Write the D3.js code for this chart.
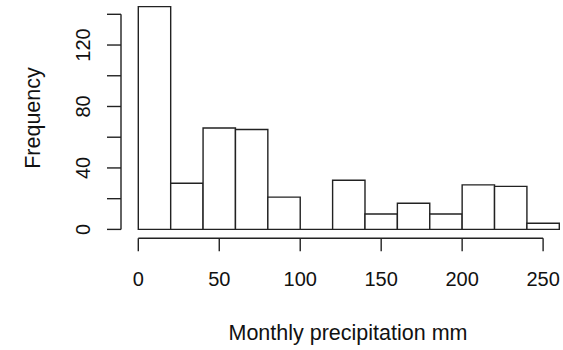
<html>
<head>
<script src="https://d3js.org/d3.v7.min.js"></script>
<style>
    body { margin: 0; background: #fff; }
    text { font-family: "Liberation Sans", Arial, sans-serif; fill: #111; }
</style>
</head>
<body>
<svg id="chart" width="563" height="350"></svg>
<script>
// histogram bins (20 mm wide) and counts
const binStarts = [0, 20, 40, 60, 80, 100, 120, 140, 160, 180, 200, 220, 240];
const binWidth = 20;
const counts = [145, 30, 66, 65, 21, 0, 32, 10, 17, 10, 29, 28, 4];
const xTicks = [0, 50, 100, 150, 200, 250];
const yTicks = [0, 20, 40, 60, 80, 100, 120, 140];
const yLabels = [0, 40, 80, 120];

const svg = d3.select("#chart");

const x = d3.scaleLinear().domain([0, 260]).range([138.3, 559.3]);
const y = d3.scaleLinear().domain([0, 140]).range([229.4, 14.3]);

// bars as closed paths so an empty bin still shows its outline
svg.append("g")
    .selectAll("path")
    .data(binStarts)
    .join("path")
    .attr("d", (d, i) => {
        const x0 = x(d), x1 = x(d + binWidth), y0 = y(0), y1 = y(counts[i]);
        return `M${x0},${y0}L${x0},${y1}L${x1},${y1}L${x1},${y0}Z`;
    })
    .attr("fill", "#fff")
    .attr("stroke", "#222")
    .attr("stroke-width", 1.4);

// x axis
const xAxis = svg.append("g").attr("transform", "translate(0,238.3)");
xAxis.append("line")
    .attr("x1", x(0)).attr("x2", x(250))
    .attr("stroke", "#222").attr("stroke-width", 1.4);
xAxis.selectAll("line.tick")
    .data(xTicks)
    .join("line")
    .attr("class", "tick")
    .attr("x1", (d) => x(d)).attr("x2", (d) => x(d))
    .attr("y1", 0).attr("y2", 13)
    .attr("stroke", "#222").attr("stroke-width", 1.4);
xAxis.selectAll("text")
    .data(xTicks)
    .join("text")
    .attr("x", (d) => x(d))
    .attr("y", 48)
    .attr("text-anchor", "middle")
    .attr("font-size", 20)
    .text((d) => d);

// y axis
const yAxis = svg.append("g").attr("transform", "translate(121,0)");
yAxis.append("line")
    .attr("y1", y(0)).attr("y2", y(140))
    .attr("stroke", "#222").attr("stroke-width", 1.4);
yAxis.selectAll("line.tick")
    .data(yTicks)
    .join("line")
    .attr("class", "tick")
    .attr("y1", (d) => y(d)).attr("y2", (d) => y(d))
    .attr("x1", 0).attr("x2", -14)
    .attr("stroke", "#222").attr("stroke-width", 1.4);
yAxis.selectAll("text")
    .data(yLabels)
    .join("text")
    .attr("transform", (d) => `translate(-31,${y(d)}) rotate(-90)`)
    .attr("text-anchor", "middle")
    .attr("font-size", 20)
    .text((d) => d);

// axis titles
svg.append("text")
    .attr("x", 348)
    .attr("y", 340)
    .attr("text-anchor", "middle")
    .attr("font-size", 21.5)
    .text("Monthly precipitation mm");

svg.append("text")
    .attr("transform", "translate(40,118) rotate(-90)")
    .attr("text-anchor", "middle")
    .attr("font-size", 21.5)
    .text("Frequency");
</script>
</body>
</html>
